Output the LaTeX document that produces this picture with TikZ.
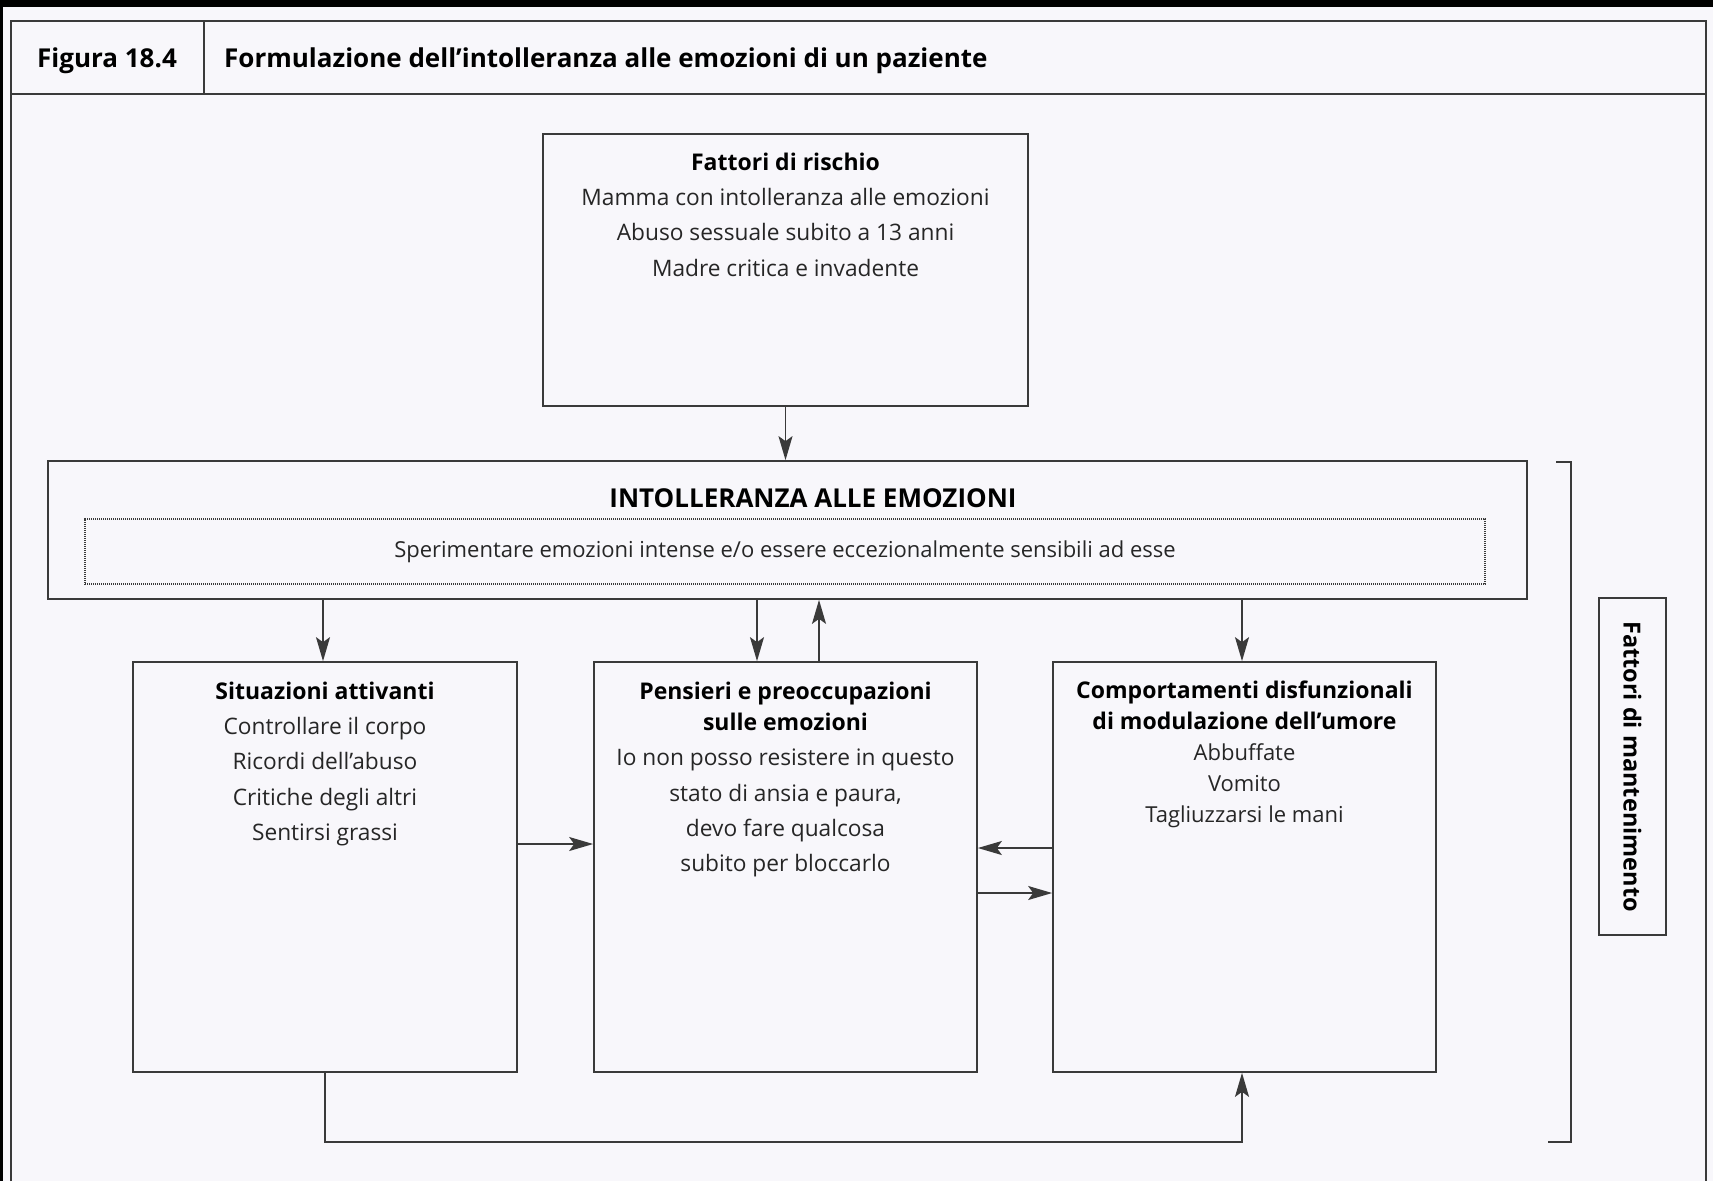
\documentclass[tikz,border=0pt]{standalone}
\usepackage{fontspec}
\setmainfont{Open Sans}
\usetikzlibrary{arrows.meta}

\definecolor{ink}{HTML}{262626}
\definecolor{rule}{HTML}{3A3A3A}
\definecolor{paper}{HTML}{F8F7FB}

\begin{document}
\begin{tikzpicture}[x=1pt,y=-1pt,
  box/.style={draw=rule, line width=1.7pt, rectangle, inner sep=0pt},
  conn/.style={draw=rule, line width=1.7pt},
  arr/.style={conn, -{Stealth[length=24pt,width=14pt,inset=5pt]}},
  ttl/.style={font=\bfseries\fontsize{23}{31}\selectfont, align=center, inner sep=0pt, anchor=north, text=black},
  txt/.style={font=\fontsize{22.7}{35.3}\selectfont, align=center, inner sep=0pt, anchor=north, text=ink},
  head/.style={font=\bfseries\fontsize{26}{30}\selectfont, anchor=base west, inner sep=0pt, text=black},
]
% page
\fill[paper] (0,0) rectangle (1713,1181);
\useasboundingbox (0,0) rectangle (1713,1181);
\fill[black] (0,0) rectangle (1713,7);
\fill[black] (0,0) rectangle (3,1181);

% frame and heading row
\draw[conn] (11,1181) -- (11,21) -- (1706,21) -- (1706,1181);
\draw[conn] (11,94) -- (1706,94);
\draw[conn] (204,21) -- (204,94);
\node[head] (fignum) at (37,67) {Figura 18.4};
\node[head] (figtitle) at (224,67) {Formulazione dell’intolleranza alle emozioni di un paziente};

% boxes
\node[box, minimum width=485pt, minimum height=272pt] (risk) at (785.5,270) {};
\node[box, minimum width=1479pt, minimum height=138pt] (intol) at (787.5,530) {};
\node[box, line width=1.8pt, dash pattern=on 1.2pt off 0.8pt, minimum width=1400pt, minimum height=65pt] (feel) at (785,551.5) {};
\node[box, minimum width=384pt, minimum height=410pt] (sit) at (325,867) {};
\node[box, minimum width=383pt, minimum height=410pt] (pen) at (785.5,867) {};
\node[box, minimum width=383pt, minimum height=410pt] (com) at (1244.5,867) {};
\node[box, minimum width=67pt, minimum height=337pt] (mant) at (1632.5,766.5) {};

% texts
\node[ttl] (riskT) at (785.5,153) {Fattori di rischio};
\node[txt] (riskB) at (785.5,188) {Mamma con intolleranza alle emozioni\\Abuso sessuale subito a 13 anni\\Madre critica e invadente};

\node[font=\bfseries\fontsize{26}{30}\selectfont, text=black, anchor=base, inner sep=0pt] (intolT) at (813,507) {INTOLLERANZA ALLE EMOZIONI};
\node[font=\fontsize{22}{28}\selectfont, text=ink, anchor=base, inner sep=0pt] (feelT) at (785,557) {Sperimentare emozioni intense e/o essere eccezionalmente sensibili ad esse};

\node[ttl] (sitT) at (325,682) {Situazioni attivanti};
\node[txt] (sitB) at (325,717) {Controllare il corpo\\Ricordi dell’abuso\\Critiche degli altri\\Sentirsi grassi};

\node[ttl] (penT) at (785.5,682) {Pensieri e preoccupazioni\\sulle emozioni};
\node[txt] (penB) at (785.5,749) {Io non posso resistere in questo\\stato di ansia e paura,\\devo fare qualcosa\\subito per bloccarlo};

\node[ttl] (comT) at (1244.5,681) {Comportamenti disfunzionali\\di modulazione dell’umore};
\node[txt, font=\fontsize{22}{31}\selectfont] (comB) at (1244.5,743) {Abbuffate\\Vomito\\Tagliuzzarsi le mani};

\node[rotate=-90, font=\bfseries\fontsize{23.5}{26}\selectfont, text=black, inner sep=0pt] (mantT) at (mant.center) {Fattori di mantenimento};

% arrow columns and rows
\coordinate (xa) at (323,0);
\coordinate (xb) at (757,0);
\coordinate (xc) at (819,0);
\coordinate (xd) at (1242,0);
\coordinate (ya) at (0,844);
\coordinate (yb) at (0,848);
\coordinate (yc) at (0,893);
\coordinate (yloop) at (0,1142);

% connectors
\draw[arr] (risk.south) -- (intol.north -| risk.south);
\draw[arr] (intol.south -| xa) -- (sit.north -| xa);
\draw[arr] (intol.south -| xb) -- (pen.north -| xb);
\draw[arr] (pen.north -| xc) -- (intol.south -| xc);
\draw[arr] (intol.south -| xd) -- (com.north -| xd);
\draw[arr] (sit.east |- ya) -- (pen.west |- ya);
\draw[arr] (com.west |- yb) -- (pen.east |- yb);
\draw[arr] (pen.east |- yc) -- (com.west |- yc);
\draw[arr] (sit.south) -- (sit.south |- yloop) -| (com.south -| xd);

% bracket grouping the maintaining factors
\coordinate (brT) at (1571,462);
\coordinate (brB) at (1571,1142);
\draw[conn] (1556,462) -- (brT) -- (brB) -- (1548,1142);
\end{tikzpicture}
\end{document}
